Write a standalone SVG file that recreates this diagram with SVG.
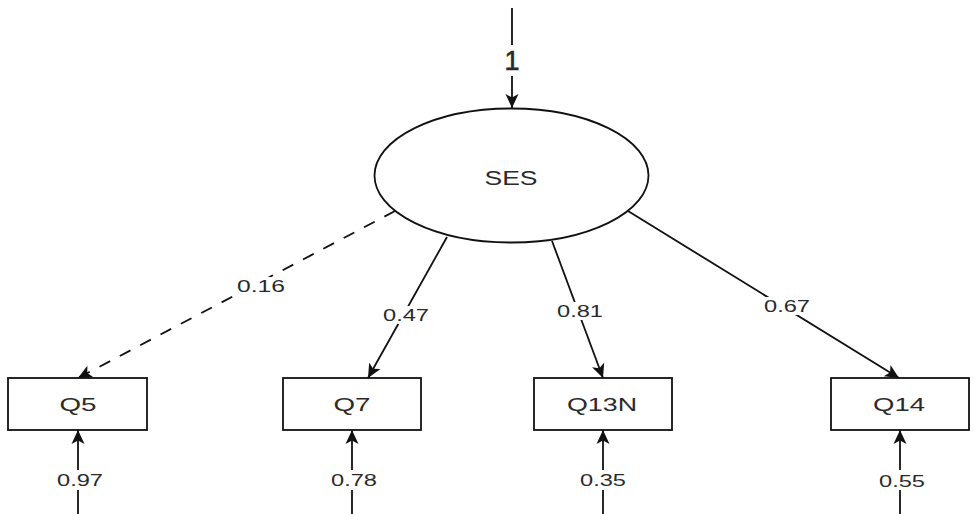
<svg xmlns="http://www.w3.org/2000/svg" width="974" height="514" viewBox="0 0 974 514">
<style>
.ln{stroke:#111;stroke-width:1.8;fill:none}
.dash{stroke-dasharray:12 11}
.box{fill:#fff;stroke:#111;stroke-width:1.8}
.ell{fill:#fff;stroke:#111;stroke-width:1.8}
.t{font-family:"Liberation Sans",Arial,sans-serif;fill:#2a2a2a;text-anchor:middle}
.nt{font-size:18px}
.lt{font-size:17px}
.bg{fill:#fff}
</style>
<defs>
<marker id="ah" viewBox="0 0 14 14" refX="14" refY="7" markerWidth="14" markerHeight="14" markerUnits="userSpaceOnUse" orient="auto">
<path d="M0,0.5 L14,7 L0,13.5 L3.5,7 z" fill="#111"/>
</marker>
</defs>
<rect width="974" height="514" fill="#fff"/>
<g id="connectors">
<line class="ln" x1="512" y1="8" x2="512" y2="108" marker-end="url(#ah)"/>
<line class="ln dash" x1="395" y1="211" x2="78" y2="378" marker-end="url(#ah)"/>
<line class="ln" x1="447" y1="237" x2="368" y2="378" marker-end="url(#ah)"/>
<line class="ln" x1="552" y1="241" x2="603" y2="378" marker-end="url(#ah)"/>
<line class="ln" x1="628" y1="211" x2="899" y2="378" marker-end="url(#ah)"/>
<line class="ln" x1="78" y1="514" x2="78" y2="430" marker-end="url(#ah)"/>
<line class="ln" x1="352" y1="514" x2="352" y2="430" marker-end="url(#ah)"/>
<line class="ln" x1="603" y1="514" x2="603" y2="430" marker-end="url(#ah)"/>
<line class="ln" x1="900" y1="514" x2="900" y2="430" marker-end="url(#ah)"/>
<rect class="bg" x="500" y="45" width="24" height="31"/>
<text class="t" x="512" y="70" style="font-size:27px;stroke:#2a2a2a;stroke-width:0.6">1</text>
<rect class="bg" x="236" y="277" width="50" height="18"/>
<text class="t lt" x="261" y="292" textLength="48" lengthAdjust="spacingAndGlyphs">0.16</text>
<rect class="bg" x="382" y="306" width="48" height="18"/>
<text class="t lt" x="406" y="321" textLength="46" lengthAdjust="spacingAndGlyphs">0.47</text>
<rect class="bg" x="556" y="302" width="48" height="18"/>
<text class="t lt" x="580" y="317" textLength="46" lengthAdjust="spacingAndGlyphs">0.81</text>
<rect class="bg" x="763" y="297" width="48" height="18"/>
<text class="t lt" x="787" y="312" textLength="46" lengthAdjust="spacingAndGlyphs">0.67</text>
<rect class="bg" x="56" y="470" width="48" height="20"/>
<text class="t lt" x="80" y="486" textLength="46" lengthAdjust="spacingAndGlyphs">0.97</text>
<rect class="bg" x="330" y="470" width="48" height="20"/>
<text class="t lt" x="354" y="486" textLength="46" lengthAdjust="spacingAndGlyphs">0.78</text>
<rect class="bg" x="579" y="470" width="48" height="20"/>
<text class="t lt" x="603" y="486" textLength="46" lengthAdjust="spacingAndGlyphs">0.35</text>
<rect class="bg" x="878" y="470" width="48" height="20"/>
<text class="t lt" x="902" y="487" textLength="46" lengthAdjust="spacingAndGlyphs">0.55</text>
</g>
<g id="SES">
<ellipse class="ell" cx="511.5" cy="175.5" rx="137" ry="67"/>
<text class="t" x="511" y="185" style="font-size:21px" textLength="53" lengthAdjust="spacingAndGlyphs">SES</text>
</g>
<g id="Q5">
<rect class="box" x="8" y="378" width="139" height="52"/>
<text class="t nt" x="78" y="411" textLength="37" lengthAdjust="spacingAndGlyphs">Q5</text>
</g>
<g id="Q7">
<rect class="box" x="283" y="378" width="138" height="52"/>
<text class="t nt" x="352" y="411" textLength="37" lengthAdjust="spacingAndGlyphs">Q7</text>
</g>
<g id="Q13N">
<rect class="box" x="534" y="378" width="138" height="52"/>
<text class="t nt" x="602" y="411" textLength="70" lengthAdjust="spacingAndGlyphs">Q13N</text>
</g>
<g id="Q14">
<rect class="box" x="831" y="378" width="138" height="52"/>
<text class="t nt" x="899" y="411" textLength="52" lengthAdjust="spacingAndGlyphs">Q14</text>
</g>
</svg>
